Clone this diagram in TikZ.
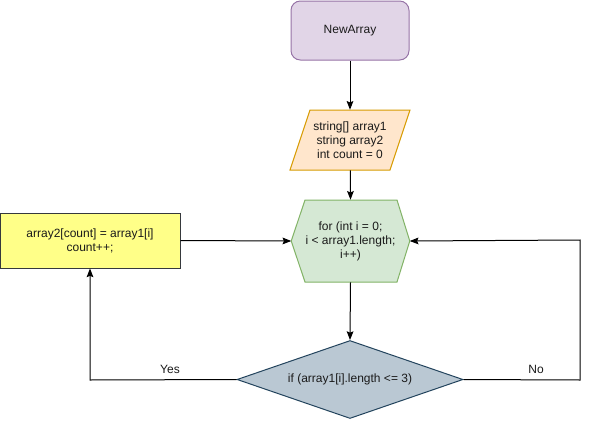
\documentclass[tikz,border=0pt]{standalone}
\usepackage{fontspec}
\setmainfont{Liberation Sans}
\usetikzlibrary{arrows.meta,shapes.geometric,calc}
\definecolor{startfill}{HTML}{E1D5E7}\definecolor{startline}{HTML}{9673A6}
\definecolor{iofill}{HTML}{FFE6CC}\definecolor{ioline}{HTML}{D79B00}
\definecolor{loopfill}{HTML}{D5E8D4}\definecolor{loopline}{HTML}{82B366}
\definecolor{condfill}{HTML}{BAC8D3}\definecolor{condline}{HTML}{23445D}
\definecolor{actfill}{HTML}{FFFF88}\definecolor{actline}{HTML}{36393D}
\definecolor{txt}{HTML}{1A1A1A}
\begin{document}
\begin{tikzpicture}[x=0.75pt,y=-0.75pt,
  every node/.style={font=\fontsize{9}{10.5}\selectfont,text=txt,align=center,inner sep=0pt},
  frame/.style={rectangle,minimum width=#1},
  conn/.style={draw=black,line width=0.75pt,-{Stealth[length=6.5pt,width=5pt,inset=1pt]}},
  lbl/.style={font=\fontsize{9}{10.5}\selectfont}]
\useasboundingbox (0,0) rectangle (589,421);
\fill[white] (0,0) rectangle (589,421);

% start terminal
\node[rectangle,rounded corners=7pt,draw=startline,fill=startfill,line width=0.75pt,
      minimum width=118*0.75pt,minimum height=59*0.75pt] (start) at (350,30.5) {NewArray};

% declarations (parallelogram)
\node[rectangle,minimum width=120*0.75pt,minimum height=60*0.75pt] (decl) at (350,140) {};
\draw[draw=ioline,fill=iofill,line width=0.75pt]
  (310,110) -- (410,110) -- (390,170) -- (290,170) -- cycle;
\node at (decl.center) {string[] array1\\string array2\\int count = 0};

% loop header (hexagon)
\node[rectangle,minimum width=118*0.75pt,minimum height=82*0.75pt] (loop) at (350.5,241) {};
\draw[draw=loopline,fill=loopfill,line width=0.75pt]
  (305,200) -- (397,200) -- (loop.east) -- (397,282) -- (305,282) -- (loop.west) -- cycle;
\node at (loop.center) {for (int i = 0;\\i < array1.length;\\i++)};

% condition (diamond)
\node[diamond,draw=condline,fill=condfill,line width=0.75pt,aspect=2.8,
      minimum width=226*0.75pt,minimum height=78*0.75pt] (cond) at (350,379.5) {if (array1[i].length <= 3)};

% body
\node[rectangle,draw=actline,fill=actfill,line width=0.75pt,
      minimum width=180*0.75pt,minimum height=55*0.75pt] (body) at (90,240.5) {array2[count] = array1[i]\\count++;};

% connectors
\coordinate (ycorner) at (90,380);
\coordinate (ncorner) at (580,380);
\coordinate (ntop) at (580,240);
\draw[conn] (start) -- (start.south |- decl.north);
\draw[conn] (decl) -- (loop.north);
\draw[conn] (loop.south) -- (cond.north);
\draw[conn] (cond.west) -- (ycorner) -- (body.south);
\draw[conn] (body.east) -- (loop.west);
\draw[conn] (cond.east) -- (ncorner) -- (ntop) -- (loop.east);

% branch labels
\node[lbl] (yes) at (170,369.5) {Yes};
\node[lbl] (no) at (536,369.5) {No};
\end{tikzpicture}
\end{document}
